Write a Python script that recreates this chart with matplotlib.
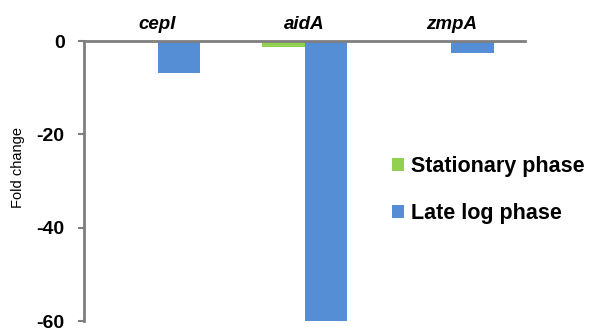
import matplotlib
matplotlib.use("Agg")
import matplotlib.pyplot as plt
from matplotlib.patches import Patch
import numpy as np

plt.rcParams['font.family'] = ['Liberation Sans', 'DejaVu Sans']

genes = ["cepI", "aidA", "zmpA"]
stationary = [0.0, -1.3, 0.0]
late_log = [-6.8, -60.0, -2.5]
series_names = ["Stationary phase", "Late log phase"]
yticks = [0, -20, -40, -60]

green = "#92D050"
blue = "#558ED5"
axis_grey = "#7F7F7F"

fig = plt.figure(figsize=(5.9, 3.28), dpi=100)
ax = fig.add_axes([84/590, 1-321/328, (525-84)/590, (321-41)/328])

x = np.arange(len(genes))
w = 0.286
ax.bar(x - w/2, stationary, width=w, color=green)
ax.bar(x + w/2, late_log, width=w, color=blue)

ax.set_xlim(-0.5, len(genes) - 0.5)
ax.set_ylim(-60, 0)
ax.set_yticks(yticks)
ax.set_yticklabels([str(v) for v in yticks], fontsize=14, fontweight='bold')
ax.tick_params(axis='y', direction='out', length=4, width=1.5, color=axis_grey, pad=10)

ax.set_xticks(x)
ax.set_xticklabels(genes, fontsize=13.5, fontweight='bold', fontstyle='italic')
ax.xaxis.tick_top()
ax.tick_params(axis='x', length=0, pad=6)

for s in ['bottom', 'right']:
    ax.spines[s].set_visible(False)
for s in ['top', 'left']:
    ax.spines[s].set_color(axis_grey)
    ax.spines[s].set_linewidth(2)
ax.spines['top'].set_zorder(5)

fig.text(18/590, 1-167/328, "Fold change", fontsize=10.5, rotation=90,
         ha='center', va='center')

handles = [Patch(facecolor=green, edgecolor='none'), Patch(facecolor=blue, edgecolor='none')]
fig.legend(handles, series_names, loc='upper left', bbox_to_anchor=(392/590, 1-156/328),
           frameon=False, prop={'size': 15.5, 'weight': 'bold'},
           handlelength=0.55, handleheight=0.55, handletextpad=0.35, labelspacing=1.2,
           borderpad=0, borderaxespad=0)

fig.savefig("out.png", dpi=100)
